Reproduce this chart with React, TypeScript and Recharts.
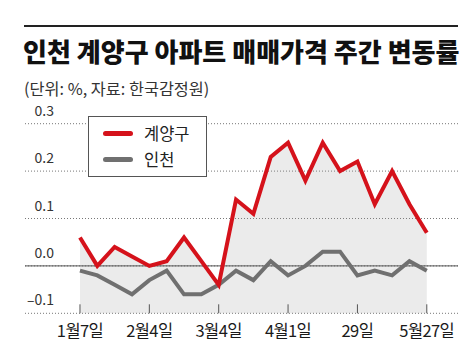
import React from 'react';
import { ComposedChart, Line, Area, XAxis, YAxis, CartesianGrid, ReferenceLine, Legend } from 'recharts';

// weekly rows, Jan 7 .. May 27
const weeks = [
  '1월7일', '1월14일', '1월21일', '1월28일', '2월4일', '2월11일', '2월18일', '2월25일',
  '3월4일', '3월11일', '3월18일', '3월25일', '4월1일', '4월8일', '4월15일', '4월22일',
  '4월29일', '5월6일', '5월13일', '5월20일', '5월27일'
];
const gyeyang = [0.06, 0.0, 0.04, 0.02, 0.0, 0.01, 0.06, 0.01, -0.04, 0.14, 0.11, 0.23, 0.26, 0.18, 0.26, 0.2, 0.22, 0.13, 0.2, 0.13, 0.07];
const incheon = [-0.01, -0.02, -0.04, -0.06, -0.03, -0.01, -0.06, -0.06, -0.04, -0.01, -0.03, 0.01, -0.02, 0.0, 0.03, 0.03, -0.02, -0.01, -0.02, 0.01, -0.01];
const tickWeeks = ['1월7일', '2월4일', '3월4일', '4월1일', '4월29일', '5월27일'];
const tickLabels = ['1월7일', '2월4일', '3월4일', '4월1일', '29일', '5월27일'];
const yTicks = [-0.1, 0, 0.1, 0.2, 0.3];

const RED = '#d5121b';
const GRAY = '#707070';
const FONT = '"Noto Sans CJK KR", "Noto Sans", sans-serif';

const data = weeks.map((w, i) => ({ idx: i, week: w, gyeyang: gyeyang[i], incheon: incheon[i] }));
const xTicks = tickWeeks.map((w) => weeks.indexOf(w));

const XTick = (props: any) => {
  const { x, y, payload } = props;
  const label = tickLabels[xTicks.indexOf(payload.value)];
  return (
    <g>
      <line x1={x} x2={x} y1={y - 9} y2={y} stroke="#555" strokeWidth={1} />
      <text x={x} y={y + 24} textAnchor="middle" fontSize={16.5} fill="#1a1a1a" fontFamily={FONT} letterSpacing={-0.6}>
        {label}
      </text>
    </g>
  );
};

const YTick = (props: any) => {
  const { x, y, payload } = props;
  const v = payload.value;
  const label = v < 0 ? `–${Math.abs(v).toFixed(1)}` : v.toFixed(1);
  return (
    <text x={x + 29} y={y - 8} textAnchor="end" fontSize={14} fill="#333" fontFamily={FONT}>
      {label}
    </text>
  );
};

const renderLegend = () => (
  <div
    style={{
      width: 117,
      height: 59,
      border: '1px solid #555',
      background: '#fff',
      position: 'relative',
      fontFamily: FONT,
    }}
  >
    {[
      { name: '계양구', color: RED, top: 17 },
      { name: '인천', color: GRAY, top: 43 },
    ].map((item) => (
      <div key={item.name}>
        <div
          style={{
            position: 'absolute',
            left: 14,
            top: item.top - 3,
            width: 30,
            height: 5,
            borderRadius: 3,
            background: item.color,
          }}
        />
        <div
          style={{
            position: 'absolute',
            left: 55,
            top: item.top - 11,
            fontSize: 16.5,
            lineHeight: '20px',
            color: '#222',
          }}
        >
          {item.name}
        </div>
      </div>
    ))}
  </div>
);

const App = () => {
  return (
    <div style={{ position: 'absolute', left: 0, top: 0, width: 476, height: 361, background: '#fff' }}>
      <svg width={476} height={110} style={{ position: 'absolute', left: 0, top: 0 }}>
        <rect x={24} y={25} width={434} height={2} fill="#222" />
        <text x={23} y={62} fontSize={26} fontWeight={900} fill="#111" fontFamily={FONT}>
          인천 계양구 아파트 매매가격 주간 변동률
        </text>
        <text x={24} y={95} fontSize={16.3} fill="#333" fontFamily={FONT}>
          (단위: %, 자료: 한국감정원)
        </text>
      </svg>
      <ComposedChart
        width={476}
        height={361}
        data={data}
        margin={{ top: 123.7, right: 18, bottom: 17.7, left: 0 }}
        style={{ position: 'absolute', left: 0, top: 0 }}
      >
        <CartesianGrid vertical={false} stroke="#777" strokeDasharray="1 2" />
        <XAxis
          type="number"
          dataKey="idx"
          domain={[-3.17, 21.8]}
          ticks={xTicks}
          tick={<XTick />}
          axisLine={false}
          tickLine={false}
          tickSize={0}
          tickMargin={0}
          height={30}
          interval={0}
        />
        <YAxis
          type="number"
          domain={[-0.1, 0.3]}
          ticks={yTicks}
          tick={<YTick />}
          axisLine={false}
          tickLine={false}
          tickSize={0}
          tickMargin={0}
          width={25}
          interval={0}
        />
        <Area
          type="linear"
          dataKey="gyeyang"
          baseValue="dataMin"
          stroke="none"
          fill="#9a9a9a"
          fillOpacity={0.2}
          isAnimationActive={false}
          legendType="none"
        />
        <ReferenceLine y={0} stroke="#555" strokeWidth={1} />
        <Line
          type="linear"
          dataKey="incheon"
          name="인천"
          stroke={GRAY}
          strokeWidth={4}
          dot={false}
          isAnimationActive={false}
        />
        <Line
          type="linear"
          dataKey="gyeyang"
          name="계양구"
          stroke={RED}
          strokeWidth={4}
          dot={false}
          isAnimationActive={false}
        />
        <Legend
          layout="vertical"
          verticalAlign="middle"
          align="center"
          wrapperStyle={{ left: 88, top: 116, width: 119, height: 61 }}
          content={renderLegend}
        />
      </ComposedChart>
    </div>
  );
};

export default App;
